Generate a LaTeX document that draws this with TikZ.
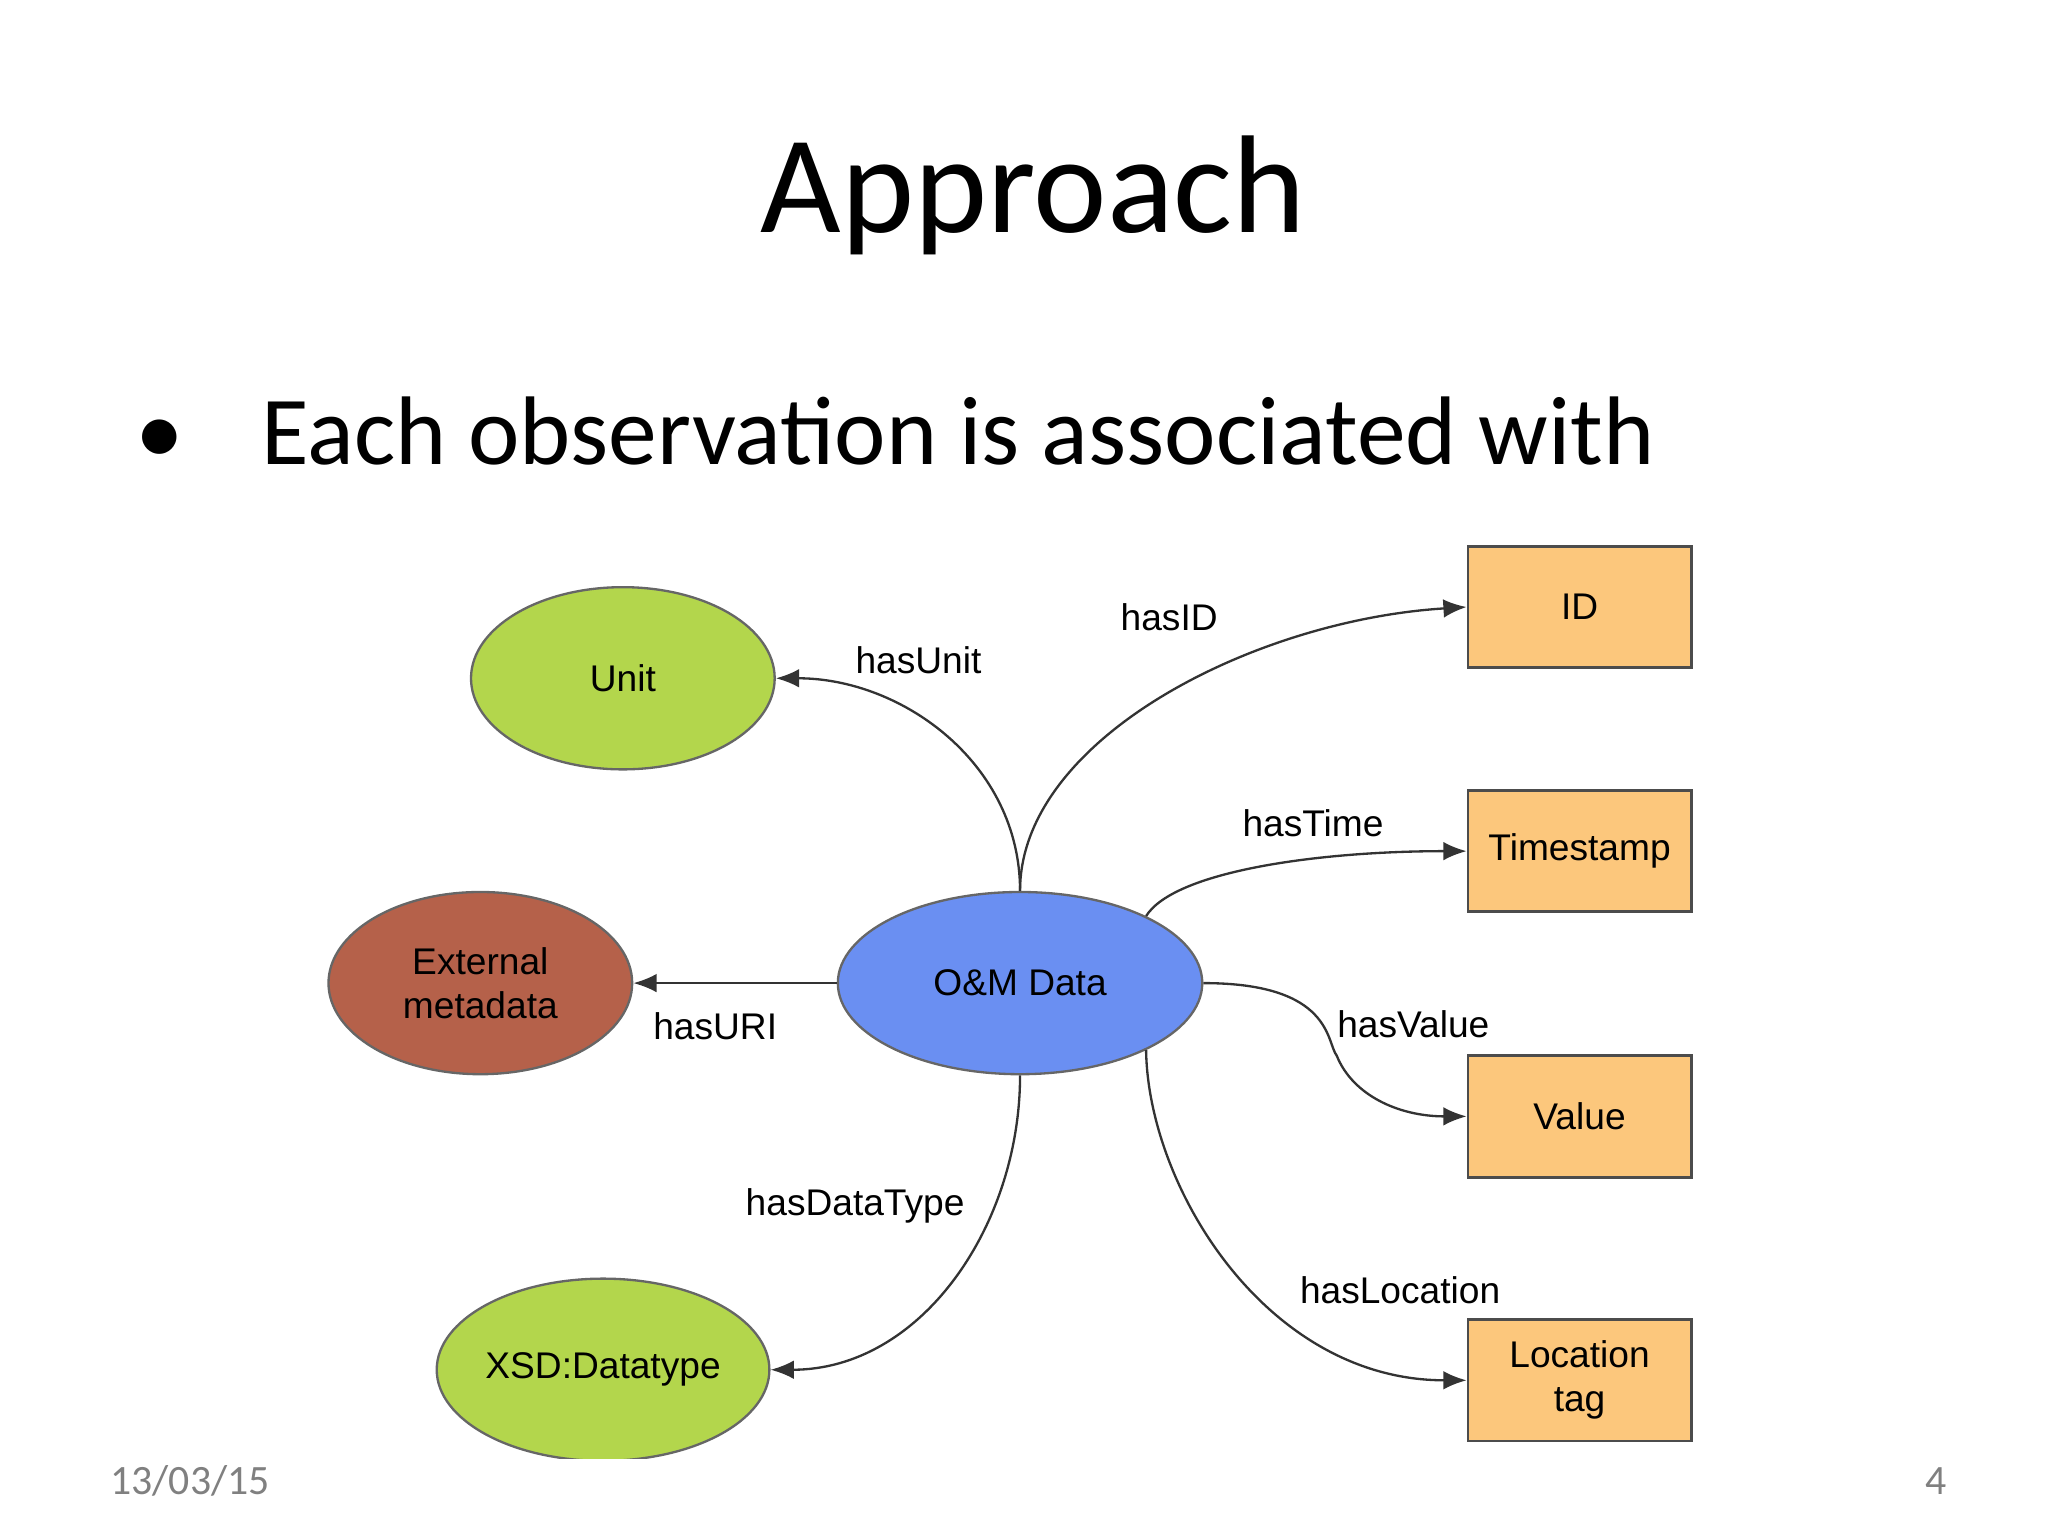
\documentclass[tikz,border=0pt]{standalone}
\usepackage{fontspec}
\setmainfont{Carlito}
\newfontfamily\diag{Liberation Sans}
\usetikzlibrary{shapes.geometric,arrows.meta}
\definecolor{greenn}{HTML}{B3D64C}
\definecolor{brownn}{HTML}{B5614A}
\definecolor{bluen}{HTML}{6A8FF2}
\definecolor{orangen}{HTML}{FCC77C}
\begin{document}
\begin{tikzpicture}[x=0.01cm,y=-0.01cm,
  ell/.style={ellipse,draw=black!60,line width=0.5pt,font=\diag\fontsize{8}{9.5}\selectfont,align=center,inner sep=0pt},
  box/.style={rectangle,draw=black!70,line width=0.6pt,fill=orangen,minimum width=1.69cm,minimum height=0.92cm,font=\diag\fontsize{8}{9.5}\selectfont,align=center},
  edge/.style={draw=black!80,line width=0.5pt,-{Latex[length=5pt,width=4pt]}},
  lab/.style={font=\diag\fontsize{8}{9.5}\selectfont}]
\useasboundingbox (0,0) rectangle (1552,1164);
\node (title) at (783,148) {\fontsize{30}{36}\selectfont Approach};
\node[anchor=west] (bul) at (90,327) {\fontsize{21}{25}\selectfont\textbullet\hspace{0.8em}Each observation is associated with};
\node[ell,fill=greenn,minimum width=2.3cm,minimum height=1.38cm] (unit) at (472,514) {Unit};
\node[ell,fill=brownn,minimum width=2.3cm,minimum height=1.38cm] (ext) at (364,745) {External\\metadata};
\node[ell,fill=bluen,minimum width=2.76cm,minimum height=1.38cm] (om) at (773,745) {O\&M Data};
\begin{scope}
\clip (0,0) rectangle (1552,1105);
\node[ell,fill=greenn,minimum width=2.3cm,minimum height=1.38cm] (xsd) at (457,1038) {XSD:Datatype};
\end{scope}
\node[box] (id) at (1197,460) {ID};
\node[box] (ts) at (1197,645) {Timestamp};
\node[box] (val) at (1197,846) {Value};
\node[box] (loc) at (1197,1046) {Location\\tag};
\draw[edge] (om.north) to[out=90,in=0] (unit.east);
\draw[edge] (om.north) .. controls (773,560) and (950,470) .. (id.west);
\draw[edge] (om.28) .. controls (890,660) and (1000,645) .. (ts.west);
\draw[edge] (om.east) .. controls (1010,745) and (1005,790) .. (1013,800) .. controls (1025,830) and (1060,846) .. (val.west);
\draw[edge] (om.-28) .. controls (870,900) and (960,1046) .. (loc.west);
\draw[edge] (om.south) to[out=-90,in=0] (xsd.east);
\draw[edge] (om.west) -- (ext.east);
\node[lab] (l1) at (696,500) {hasUnit};
\node[lab] (l2) at (886,468) {hasID};
\node[lab] (l3) at (995,624) {hasTime};
\node[lab] (l4) at (1071,776) {hasValue};
\node[lab] (l5) at (1061,978) {hasLocation};
\node[lab] (l6) at (648,914) {hasDataType};
\node[lab] (l7) at (542,778) {hasURI};
\node[text=black!50] (date) at (144,1122) {\fontsize{9}{11}\selectfont 13/03/15};
\node[text=black!50] (pg) at (1467,1122) {\fontsize{9}{11}\selectfont 4};
\end{tikzpicture}
\end{document}
